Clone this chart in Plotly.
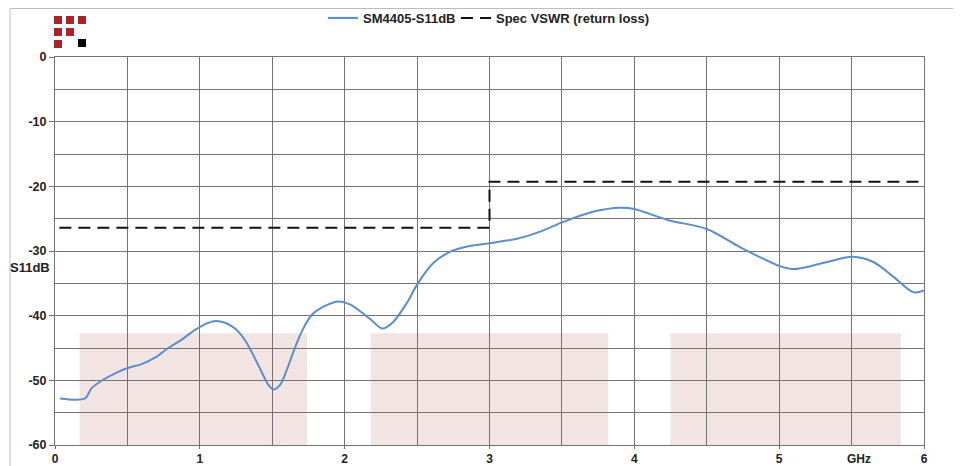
import plotly.graph_objects as go

# ---- data ----
freq_ghz = [0.035, 0.207, 0.253, 0.334, 0.426, 0.502, 0.598, 0.690, 0.782, 0.875, 0.967, 1.036,
            1.10, 1.174, 1.243, 1.312, 1.369, 1.427, 1.473, 1.508, 1.554, 1.600, 1.646, 1.703,
            1.772, 1.864, 1.956, 2.04, 2.18, 2.26, 2.33, 2.43, 2.50, 2.61, 2.73, 2.87,
            3.00, 3.19, 3.35, 3.51, 3.72, 3.90, 4.00, 4.23, 4.50, 4.73, 5.00, 5.10, 5.33, 5.51,
            5.65, 5.79, 5.93, 6.00]
s11_db = [-52.8, -52.8, -51.2, -49.9, -48.8, -48.1, -47.5, -46.5, -45.0, -43.7, -42.2, -41.3,
          -40.85, -41.1, -42.0, -43.8, -46.1, -48.7, -50.7, -51.4, -50.7, -48.4, -45.6, -42.5,
          -39.9, -38.5, -37.8, -38.3, -40.6, -42.0, -41.1, -38.0, -35.2, -31.9, -30.1, -29.2,
          -28.8, -28.1, -27.0, -25.5, -23.9, -23.3, -23.5, -25.2, -26.6, -29.4, -32.3, -32.8,
          -31.7, -30.9, -31.7, -34.0, -36.4, -36.1]
spec_x = [0.03, 3.0, 3.0, 6.0]
spec_y = [-26.4, -26.4, -19.3, -19.3]
band_start = [0.17, 2.18, 4.25]
band_end = [1.74, 3.82, 5.84]
band_top_db = -42.7
x_ticks = [0, 1, 2, 3, 4, 5, 6]
y_ticks = [0, -10, -20, -30, -40, -50, -60]
y_tick_text = ["0", "-10", "-20", "-30", "-40", "-50", "-60"]

FONT = "Liberation Sans, Arial, sans-serif"
GRID = "#737373"

fig = go.Figure()
fig.add_trace(go.Scatter(x=freq_ghz, y=s11_db, mode="lines", name="SM4405-S11dB",
                         line=dict(color="#5b8dcb", width=2, shape="spline", smoothing=0.9)))
fig.add_trace(go.Scatter(x=spec_x, y=spec_y, mode="lines", name="Spec VSWR (return loss)",
                         legend="legend2",
                         line=dict(color="#111111", width=2, dash="12px,7px")))

# page offset (browser body margin)
OFF = 8
W, H = 961 - OFF, 466 - OFF
PL, PR, PT, PB = 55, 924, 57, 445  # plot area in page pixels
L, T = PL - OFF, PT - OFF
R, B = W - (PR - OFF), H - (PB - OFF)
pw, ph = PR - PL, PB - PT
def px(x):
    return (x - PL) / pw
def py(y):
    return (PB - y) / ph

shapes = []
for a, b in zip(band_start, band_end):
    shapes.append(dict(type="rect", xref="x", yref="y", x0=a, x1=b, y0=-64, y1=band_top_db,
                       fillcolor="#f3e4e4", line=dict(width=0), layer="below"))
shapes.append(dict(type="line", xref="paper", yref="paper", x0=px(10), x1=px(961), y0=py(8.5), y1=py(8.5),
                   line=dict(color="#bdbdbd", width=1)))
shapes.append(dict(type="line", xref="paper", yref="paper", x0=px(10), x1=px(10), y0=py(8.5), y1=py(466),
                   line=dict(color="#bdbdbd", width=1)))
red = "#a8232a"
for (cx, cy, col) in [(54, 16, red), (66, 16, red), (78, 16, red), (54, 28, red), (66, 28, red),
                      (54, 40, red), (78, 39, "#000000")]:
    shapes.append(dict(type="rect", xref="paper", yref="paper", x0=px(cx), x1=px(cx + 8),
                       y0=py(cy + 8), y1=py(cy), fillcolor=col, line=dict(width=0)))

legend_font = dict(family=FONT, size=13, color="#222222", weight="bold")
fig.update_layout(
    width=W, height=H,
    margin=dict(l=L, r=R, t=T, b=B, autoexpand=False),
    paper_bgcolor="white", plot_bgcolor="white",
    font=dict(family=FONT, size=12, color="#222222", weight="bold"),
    shapes=shapes,
    showlegend=True,
    legend=dict(orientation="h", x=px(323), y=py(18), xanchor="left", yanchor="middle",
                font=legend_font, bgcolor="rgba(0,0,0,0)", itemwidth=30),
    legend2=dict(orientation="h", x=px(456), y=py(18), xanchor="left", yanchor="middle",
                 font=legend_font, bgcolor="rgba(0,0,0,0)", itemwidth=30),
    xaxis=dict(range=[0, 6], tickvals=x_ticks, showgrid=True, gridcolor=GRID, gridwidth=1,
               minor=dict(dtick=0.5, showgrid=True, gridcolor=GRID, gridwidth=1),
               showline=True, linecolor=GRID, linewidth=1, mirror=True,
               ticks="outside", ticklen=3, tickcolor=GRID, zeroline=False,
               tickfont=dict(size=12, weight="bold"), ticklabelstandoff=0),
    yaxis=dict(range=[-60, 0], tickvals=y_ticks, ticktext=y_tick_text, showgrid=True,
               gridcolor=GRID, gridwidth=1,
               minor=dict(dtick=5, showgrid=True, gridcolor=GRID, gridwidth=1),
               showline=True, linecolor=GRID, linewidth=1, mirror=True,
               ticks="outside", ticklen=5, tickcolor=GRID, zeroline=False,
               tickfont=dict(size=12.5, weight="bold")),
    annotations=[
        dict(text="S11dB", xref="paper", yref="y", x=px(52), y=-32.6, xanchor="right",
             yanchor="middle", showarrow=False, font=dict(size=13, weight="bold")),
        dict(text="GHz", xref="x", yref="paper", x=5.55, y=py(459), xanchor="center",
             yanchor="middle", showarrow=False, font=dict(size=12, weight="bold")),
    ],
)

fig.write_html("out.html")
